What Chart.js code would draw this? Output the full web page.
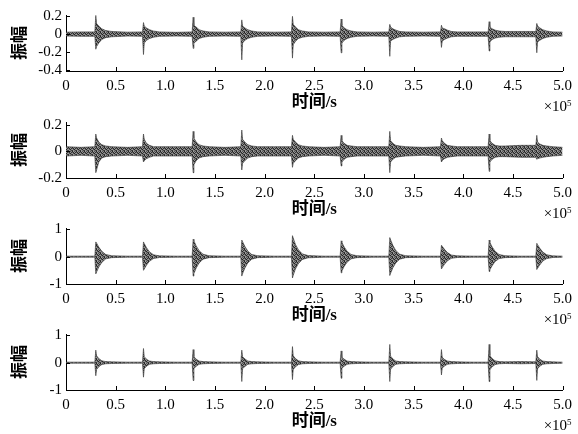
<!DOCTYPE html>
<html>
<head>
<meta charset="utf-8">
<script src="https://cdn.jsdelivr.net/npm/chart.js@4.4.0/dist/chart.umd.min.js"></script>
<style>
  body { margin: 0; background: #fff; }
  #wrap { position: relative; width: 578px; height: 434px; overflow: hidden; }
  canvas { position: absolute; left: 0; }
</style>
</head>
<body>
<div id="wrap">
  <canvas id="c1" width="578" height="116" style="top:0px"></canvas>
  <canvas id="c2" width="578" height="116" style="top:107px"></canvas>
  <canvas id="c3" width="578" height="116" style="top:213px"></canvas>
  <canvas id="c4" width="578" height="116" style="top:319px"></canvas>
</div>
<script>
// time axis (x 10^5 s), shared by the four signals: envelope knots
const t = [
  0, 0.15,
  0.29, 0.30, 0.308, 0.33, 0.36, 0.40, 0.46, 0.62,
  0.77, 0.78, 0.788, 0.81, 0.84, 0.88, 0.94, 1.11,
  1.27, 1.28, 1.288, 1.31, 1.34, 1.38, 1.44, 1.60,
  1.76, 1.77, 1.778, 1.80, 1.83, 1.87, 1.93, 2.10,
  2.27, 2.28, 2.288, 2.31, 2.34, 2.38, 2.44, 2.60,
  2.76, 2.77, 2.778, 2.80, 2.83, 2.87, 2.93, 3.09,
  3.25, 3.26, 3.268, 3.29, 3.32, 3.36, 3.42, 3.60,
  3.77, 3.78, 3.788, 3.81, 3.84, 3.88, 3.94, 4.10,
  4.25, 4.26, 4.268, 4.29, 4.32, 4.36, 4.42, 4.58,
  4.73, 4.74, 4.748, 4.77, 4.80, 4.84, 4.90,
  5.0
];

// signal 1: upper / lower envelope
const hi1 = [
  0.022, 0.025,
  0.025, 0.21, 0.12, 0.09, 0.06, 0.04, 0.03, 0.022,
  0.025, 0.13, 0.09, 0.07, 0.05, 0.035, 0.025, 0.02,
  0.025, 0.19, 0.10, 0.08, 0.05, 0.035, 0.025, 0.022,
  0.025, 0.16, 0.09, 0.07, 0.05, 0.035, 0.025, 0.022,
  0.025, 0.20, 0.11, 0.08, 0.05, 0.035, 0.025, 0.022,
  0.025, 0.17, 0.10, 0.07, 0.05, 0.035, 0.025, 0.022,
  0.025, 0.11, 0.08, 0.06, 0.045, 0.03, 0.025, 0.022,
  0.025, 0.10, 0.07, 0.06, 0.045, 0.03, 0.025, 0.025,
  0.025, 0.14, 0.08, 0.06, 0.045, 0.035, 0.03, 0.03,
  0.03, 0.12, 0.09, 0.07, 0.05, 0.035, 0.025,
  0.022
];
const lo1 = [
  -0.022, -0.025,
  -0.025, -0.17, -0.14, -0.10, -0.06, -0.04, -0.03, -0.022,
  -0.025, -0.23, -0.10, -0.07, -0.05, -0.035, -0.025, -0.022,
  -0.025, -0.16, -0.10, -0.08, -0.05, -0.035, -0.025, -0.022,
  -0.025, -0.29, -0.10, -0.07, -0.05, -0.035, -0.025, -0.022,
  -0.025, -0.27, -0.12, -0.08, -0.05, -0.035, -0.025, -0.022,
  -0.025, -0.21, -0.10, -0.07, -0.05, -0.035, -0.025, -0.022,
  -0.025, -0.25, -0.08, -0.06, -0.045, -0.03, -0.025, -0.022,
  -0.025, -0.15, -0.08, -0.06, -0.045, -0.03, -0.025, -0.025,
  -0.025, -0.19, -0.09, -0.06, -0.045, -0.035, -0.03, -0.03,
  -0.03, -0.21, -0.09, -0.07, -0.05, -0.035, -0.025,
  -0.022
];

// signal 2
const hi2 = [
  0.035, 0.03,
  0.035, 0.13, 0.10, 0.07, 0.05, 0.04, 0.035, 0.03,
  0.035, 0.13, 0.09, 0.06, 0.045, 0.035, 0.035, 0.035,
  0.035, 0.15, 0.10, 0.07, 0.05, 0.04, 0.035, 0.03,
  0.035, 0.16, 0.09, 0.07, 0.05, 0.04, 0.035, 0.035,
  0.035, 0.12, 0.09, 0.07, 0.05, 0.04, 0.035, 0.03,
  0.035, 0.12, 0.08, 0.06, 0.045, 0.04, 0.035, 0.035,
  0.035, 0.15, 0.08, 0.06, 0.045, 0.04, 0.035, 0.03,
  0.035, 0.10, 0.08, 0.06, 0.045, 0.04, 0.035, 0.035,
  0.035, 0.13, 0.08, 0.06, 0.045, 0.04, 0.04, 0.045,
  0.045, 0.12, 0.07, 0.055, 0.045, 0.04, 0.035,
  0.03
];
const lo2 = [
  -0.035, -0.03,
  -0.035, -0.16, -0.14, -0.08, -0.05, -0.04, -0.035, -0.03,
  -0.035, -0.08, -0.07, -0.055, -0.045, -0.035, -0.035, -0.035,
  -0.035, -0.16, -0.10, -0.07, -0.05, -0.04, -0.035, -0.03,
  -0.035, -0.14, -0.09, -0.07, -0.05, -0.04, -0.035, -0.035,
  -0.035, -0.12, -0.09, -0.07, -0.05, -0.04, -0.035, -0.03,
  -0.035, -0.11, -0.08, -0.06, -0.045, -0.04, -0.035, -0.035,
  -0.035, -0.16, -0.08, -0.06, -0.045, -0.04, -0.035, -0.03,
  -0.035, -0.08, -0.07, -0.055, -0.045, -0.04, -0.035, -0.035,
  -0.035, -0.15, -0.08, -0.06, -0.045, -0.04, -0.04, -0.045,
  -0.045, -0.06, -0.055, -0.05, -0.045, -0.04, -0.035,
  -0.03
];

// signal 3
const hi3 = [
  0.02, 0.02,
  0.02, 0.54, 0.50, 0.35, 0.20, 0.08, 0.035, 0.02,
  0.02, 0.54, 0.48, 0.33, 0.18, 0.07, 0.03, 0.02,
  0.02, 0.64, 0.58, 0.40, 0.22, 0.09, 0.035, 0.02,
  0.02, 0.61, 0.55, 0.38, 0.21, 0.08, 0.035, 0.02,
  0.02, 0.77, 0.68, 0.45, 0.25, 0.10, 0.04, 0.02,
  0.02, 0.58, 0.52, 0.36, 0.20, 0.08, 0.035, 0.02,
  0.02, 0.70, 0.62, 0.42, 0.23, 0.09, 0.035, 0.02,
  0.02, 0.42, 0.38, 0.27, 0.15, 0.06, 0.03, 0.02,
  0.02, 0.61, 0.52, 0.36, 0.20, 0.08, 0.035, 0.02,
  0.02, 0.49, 0.44, 0.31, 0.17, 0.07, 0.03,
  0.02
];
const lo3 = [
  -0.02, -0.02,
  -0.02, -0.63, -0.56, -0.38, -0.21, -0.08, -0.035, -0.02,
  -0.02, -0.50, -0.45, -0.31, -0.17, -0.07, -0.03, -0.02,
  -0.02, -0.71, -0.62, -0.42, -0.23, -0.09, -0.035, -0.02,
  -0.02, -0.71, -0.62, -0.42, -0.23, -0.09, -0.035, -0.02,
  -0.02, -0.78, -0.68, -0.45, -0.25, -0.10, -0.04, -0.02,
  -0.02, -0.59, -0.52, -0.36, -0.20, -0.08, -0.035, -0.02,
  -0.02, -0.69, -0.61, -0.41, -0.23, -0.09, -0.035, -0.02,
  -0.02, -0.45, -0.40, -0.28, -0.15, -0.06, -0.03, -0.02,
  -0.02, -0.54, -0.48, -0.33, -0.18, -0.07, -0.035, -0.02,
  -0.02, -0.47, -0.42, -0.30, -0.16, -0.07, -0.03,
  -0.02
];

// signal 4
const hi4 = [
  0.02, 0.02,
  0.02, 0.46, 0.25, 0.15, 0.07, 0.04, 0.03, 0.02,
  0.02, 0.52, 0.22, 0.13, 0.06, 0.04, 0.03, 0.02,
  0.02, 0.48, 0.22, 0.13, 0.06, 0.04, 0.03, 0.02,
  0.02, 0.46, 0.22, 0.14, 0.06, 0.04, 0.03, 0.02,
  0.02, 0.59, 0.25, 0.15, 0.07, 0.04, 0.03, 0.02,
  0.02, 0.43, 0.20, 0.13, 0.06, 0.04, 0.03, 0.02,
  0.02, 0.67, 0.24, 0.14, 0.06, 0.04, 0.03, 0.02,
  0.02, 0.48, 0.20, 0.12, 0.06, 0.04, 0.03, 0.02,
  0.02, 0.67, 0.26, 0.15, 0.07, 0.04, 0.03, 0.04,
  0.03, 0.46, 0.22, 0.13, 0.06, 0.04, 0.03,
  0.02
];
const lo4 = [
  -0.02, -0.02,
  -0.02, -0.48, -0.25, -0.15, -0.07, -0.04, -0.03, -0.02,
  -0.02, -0.53, -0.22, -0.13, -0.06, -0.04, -0.03, -0.02,
  -0.02, -0.65, -0.22, -0.13, -0.06, -0.04, -0.03, -0.02,
  -0.02, -0.69, -0.22, -0.14, -0.06, -0.04, -0.03, -0.02,
  -0.02, -0.62, -0.25, -0.15, -0.07, -0.04, -0.03, -0.02,
  -0.02, -0.57, -0.20, -0.13, -0.06, -0.04, -0.03, -0.02,
  -0.02, -0.69, -0.24, -0.14, -0.06, -0.04, -0.03, -0.02,
  -0.02, -0.45, -0.20, -0.12, -0.06, -0.04, -0.03, -0.02,
  -0.02, -0.69, -0.26, -0.15, -0.07, -0.04, -0.03, -0.04,
  -0.03, -0.65, -0.22, -0.13, -0.06, -0.04, -0.03,
  -0.02
];

const xTicks = [0, 0.5, 1.0, 1.5, 2.0, 2.5, 3.0, 3.5, 4.0, 4.5, 5.0];
const xTickLabels = ['0', '0.5', '1.0', '1.5', '2.0', '2.5', '3.0', '3.5', '4.0', '4.5', '5.0'];
const yTicks1 = [0.2, 0, -0.2, -0.4];
const yTicks2 = [0.2, 0, -0.2];
const yTicks3 = [1, 0, -1];

const serif = '"Liberation Serif", "Times New Roman", "Noto Sans CJK SC", serif';

// speckled grey fill so the envelope reads like a dense trace
function traceTexture() {
  const p = document.createElement('canvas');
  p.width = 4;
  p.height = 4;
  const g = p.getContext('2d');
  const shades = [
    '#222', '#999', '#555', '#888',
    '#666', '#2a2a2a', '#999', '#333',
    '#999', '#555', '#222', '#888',
    '#333', '#999', '#777', '#444'
  ];
  shades.forEach((c, i) => { g.fillStyle = c; g.fillRect(i % 4, Math.floor(i / 4), 1, 1); });
  return g.createPattern(p, 'repeat');
}

// ticks point inwards, plus the x10^5 exponent under the right end
const axisMarks = {
  id: 'axisMarks',
  afterDraw(chart) {
    const { ctx, chartArea: a, scales: { x, y } } = chart;
    ctx.save();
    ctx.strokeStyle = '#000';
    ctx.lineWidth = 1;
    ctx.beginPath();
    x.ticks.forEach(tk => {
      const px = Math.round(x.getPixelForValue(tk.value)) + 0.5;
      ctx.moveTo(px, a.bottom);
      ctx.lineTo(px, a.bottom - 4);
    });
    y.ticks.forEach(tk => {
      const py = Math.round(y.getPixelForValue(tk.value)) + 0.5;
      ctx.moveTo(a.left, py);
      ctx.lineTo(a.left + 4, py);
    });
    ctx.stroke();
    ctx.fillStyle = '#000';
    ctx.textBaseline = 'alphabetic';
    ctx.textAlign = 'left';
    ctx.font = '15px ' + serif;
    const x0 = a.right - 19;
    ctx.fillText('\u00d710', x0, a.bottom + 40);
    const w = ctx.measureText('\u00d710').width;
    ctx.font = '9px ' + serif;
    ctx.fillText('5', x0 + w, a.bottom + 35);
    ctx.restore();
  }
};

function makePanel(id, hi, lo, yMin, yMax, yTicks) {
  const ctx = document.getElementById(id).getContext('2d');
  return new Chart(ctx, {
    type: 'line',
    data: {
      datasets: [
        {
          data: hi.map((v, i) => ({ x: t[i], y: v })),
          borderColor: '#333',
          borderWidth: 0.6,
          pointRadius: 0,
          fill: false
        },
        {
          data: lo.map((v, i) => ({ x: t[i], y: v })),
          borderColor: '#333',
          borderWidth: 0.6,
          backgroundColor: traceTexture(),
          pointRadius: 0,
          fill: '-1'
        }
      ]
    },
    options: {
      responsive: false,
      animation: false,
      events: [],
      layout: { padding: { top: 15, right: 14, bottom: 0, left: 0 } },
      plugins: { legend: { display: false }, tooltip: { enabled: false } },
      scales: {
        x: {
          type: 'linear',
          min: 0,
          max: 5,
          afterBuildTicks: s => { s.ticks = xTicks.map(v => ({ value: v })); },
          afterFit: s => { s.height = 45; },
          grid: { display: false, drawTicks: false },
          border: { display: true, color: '#000', width: 1 },
          ticks: {
            color: '#000',
            padding: 6,
            maxRotation: 0,
            autoSkip: false,
            font: { family: serif, size: 15 },
            callback: (v, i) => xTickLabels[i]
          },
          title: {
            display: true,
            text: '时间/s',
            color: '#000',
            padding: { top: 0, bottom: 3 },
            font: { family: serif, size: 17, weight: 'bold' }
          }
        },
        y: {
          min: yMin,
          max: yMax,
          afterBuildTicks: s => { s.ticks = yTicks.map(v => ({ value: v })); },
          afterFit: s => { s.width = 66; },
          grid: { display: false, drawTicks: false },
          border: { display: true, color: '#000', width: 1 },
          ticks: {
            color: '#000',
            padding: 4,
            autoSkip: false,
            font: { family: serif, size: 15 },
            callback: v => String(v)
          },
          title: {
            display: true,
            text: '振幅',
            color: '#000',
            padding: { top: 8, bottom: 0 },
            font: { family: '"Noto Sans CJK SC", sans-serif', size: 17, weight: 'bold' }
          }
        }
      }
    },
    plugins: [axisMarks]
  });
}

makePanel('c1', hi1, lo1, -0.415, 0.215, yTicks1);
makePanel('c2', hi2, lo2, -0.2, 0.22, yTicks2);
makePanel('c3', hi3, lo3, -1, 1.05, yTicks3);
makePanel('c4', hi4, lo4, -1, 1.05, yTicks3);
</script>
</body>
</html>
